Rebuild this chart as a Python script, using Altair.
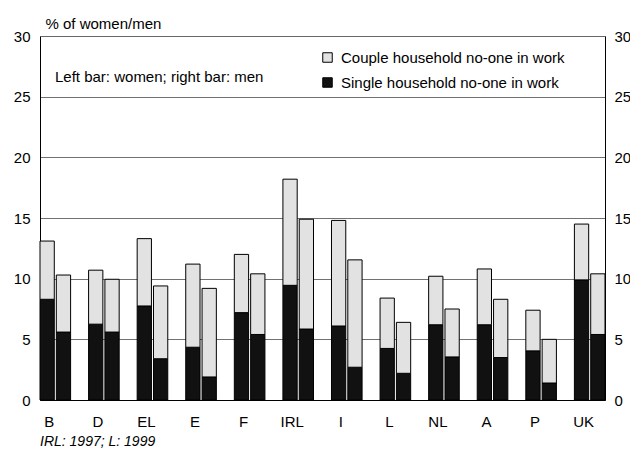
import altair as alt
import pandas as pd

countries = ["B", "D", "EL", "E", "F", "IRL", "I", "L", "NL", "A", "P", "UK"]
women_total = [13.1, 10.7, 13.3, 11.2, 12.0, 18.2, 14.8, 8.4, 10.2, 10.8, 7.4, 14.5]
women_single = [8.3, 6.25, 7.75, 4.35, 7.2, 9.45, 6.1, 4.25, 6.2, 6.2, 4.05, 9.9]
men_total = [10.3, 9.95, 9.4, 9.2, 10.4, 14.9, 11.55, 6.4, 7.5, 8.3, 5.0, 10.4]
men_single = [5.6, 5.6, 3.4, 1.9, 5.4, 5.85, 2.7, 2.2, 3.55, 3.5, 1.4, 5.4]

COUPLE = "Couple household no-one in work"
SINGLE = "Single household no-one in work"

rows = []
for i, c in enumerate(countries):
    for sex, tot, sng in (("women", women_total[i], women_single[i]),
                          ("men", men_total[i], men_single[i])):
        rows.append({"country": c, "sex": sex, "type": SINGLE, "ord": 0, "value": sng})
        rows.append({"country": c, "sex": sex, "type": COUPLE, "ord": 1, "value": round(tot - sng, 3)})
df = pd.DataFrame(rows)

FONT = "Liberation Sans"
yscale = alt.Scale(domain=[0, 30])

bars = alt.Chart(df).mark_bar(stroke="black", strokeWidth=1).encode(
    x=alt.X("country:N", sort=countries,
            scale=alt.Scale(paddingInner=0.37, paddingOuter=0),
            axis=alt.Axis(title=None, ticks=False, labelPadding=14, labelAngle=0,
                          labelOffset=-6, domainColor="black", labelFontSize=15,
                          labelColor="black", labelFont=FONT)),
    xOffset=alt.XOffset("sex:N", sort=["women", "men"],
                        scale=alt.Scale(paddingInner=0.125, paddingOuter=0)),
    y=alt.Y("value:Q", stack="zero", scale=yscale,
            axis=alt.Axis(title="% of women/men", titleAngle=0, titleAlign="left",
                          titleX=5, titleY=-8, titleBaseline="alphabetic",
                          titleFontWeight="normal", titleFontSize=15, titleFont=FONT,
                          titleColor="black",
                          values=[0, 5, 10, 15, 20, 25, 30], ticks=False,
                          labelPadding=10, labelFontSize=15, labelFont=FONT,
                          labelColor="black", grid=True, gridColor="#333",
                          gridWidth=0.7, domainColor="black")),
    color=alt.Color("type:N", scale=alt.Scale(domain=[COUPLE, SINGLE],
                                              range=["#e2e2e2", "#111111"]),
                    legend=alt.Legend(title=None, orient="none", legendX=280, legendY=14,
                                      symbolType="square", symbolSize=90,
                                      symbolStrokeColor="black", symbolStrokeWidth=1,
                                      labelFontSize=15, labelFont=FONT, labelColor="black",
                                      labelLimit=0, rowPadding=9, labelOffset=6)),
    order=alt.Order("ord:Q"),
)

right_axis = alt.Chart(df).mark_rule(opacity=0).encode(
    y=alt.Y("value:Q", aggregate="max", scale=yscale,
            axis=alt.Axis(orient="right", title=None, values=[0, 5, 10, 15, 20, 25, 30],
                          ticks=False, labelPadding=9, labelFontSize=15, labelFont=FONT,
                          labelColor="black", grid=False, domainColor="black")),
)

note_df = pd.DataFrame({"t": ["Left bar: women; right bar: men"]})
note = alt.Chart(note_df).mark_text(align="left", baseline="middle", fontSize=15,
                                    font=FONT, color="black").encode(
    x=alt.value(15), y=alt.value(41), text="t:N")

foot_df = pd.DataFrame({"t": ["IRL: 1997; L: 1999"]})
foot = alt.Chart(foot_df).mark_text(align="left", baseline="middle", fontSize=14,
                                    fontStyle="italic", font=FONT, color="black").encode(
    x=alt.value(0), y=alt.value(406), text="t:N")

chart = alt.layer(bars, right_axis, note, foot).resolve_axis(y="independent").properties(
    width=565, height=364,
    autosize=alt.AutoSizeParams(type="none"),
    padding={"left": 32, "top": 28, "right": 25, "bottom": 48},
).configure_view(stroke=None).configure(background="white")

chart.save("out.html", embed_options={"renderer": "svg", "actions": False})
